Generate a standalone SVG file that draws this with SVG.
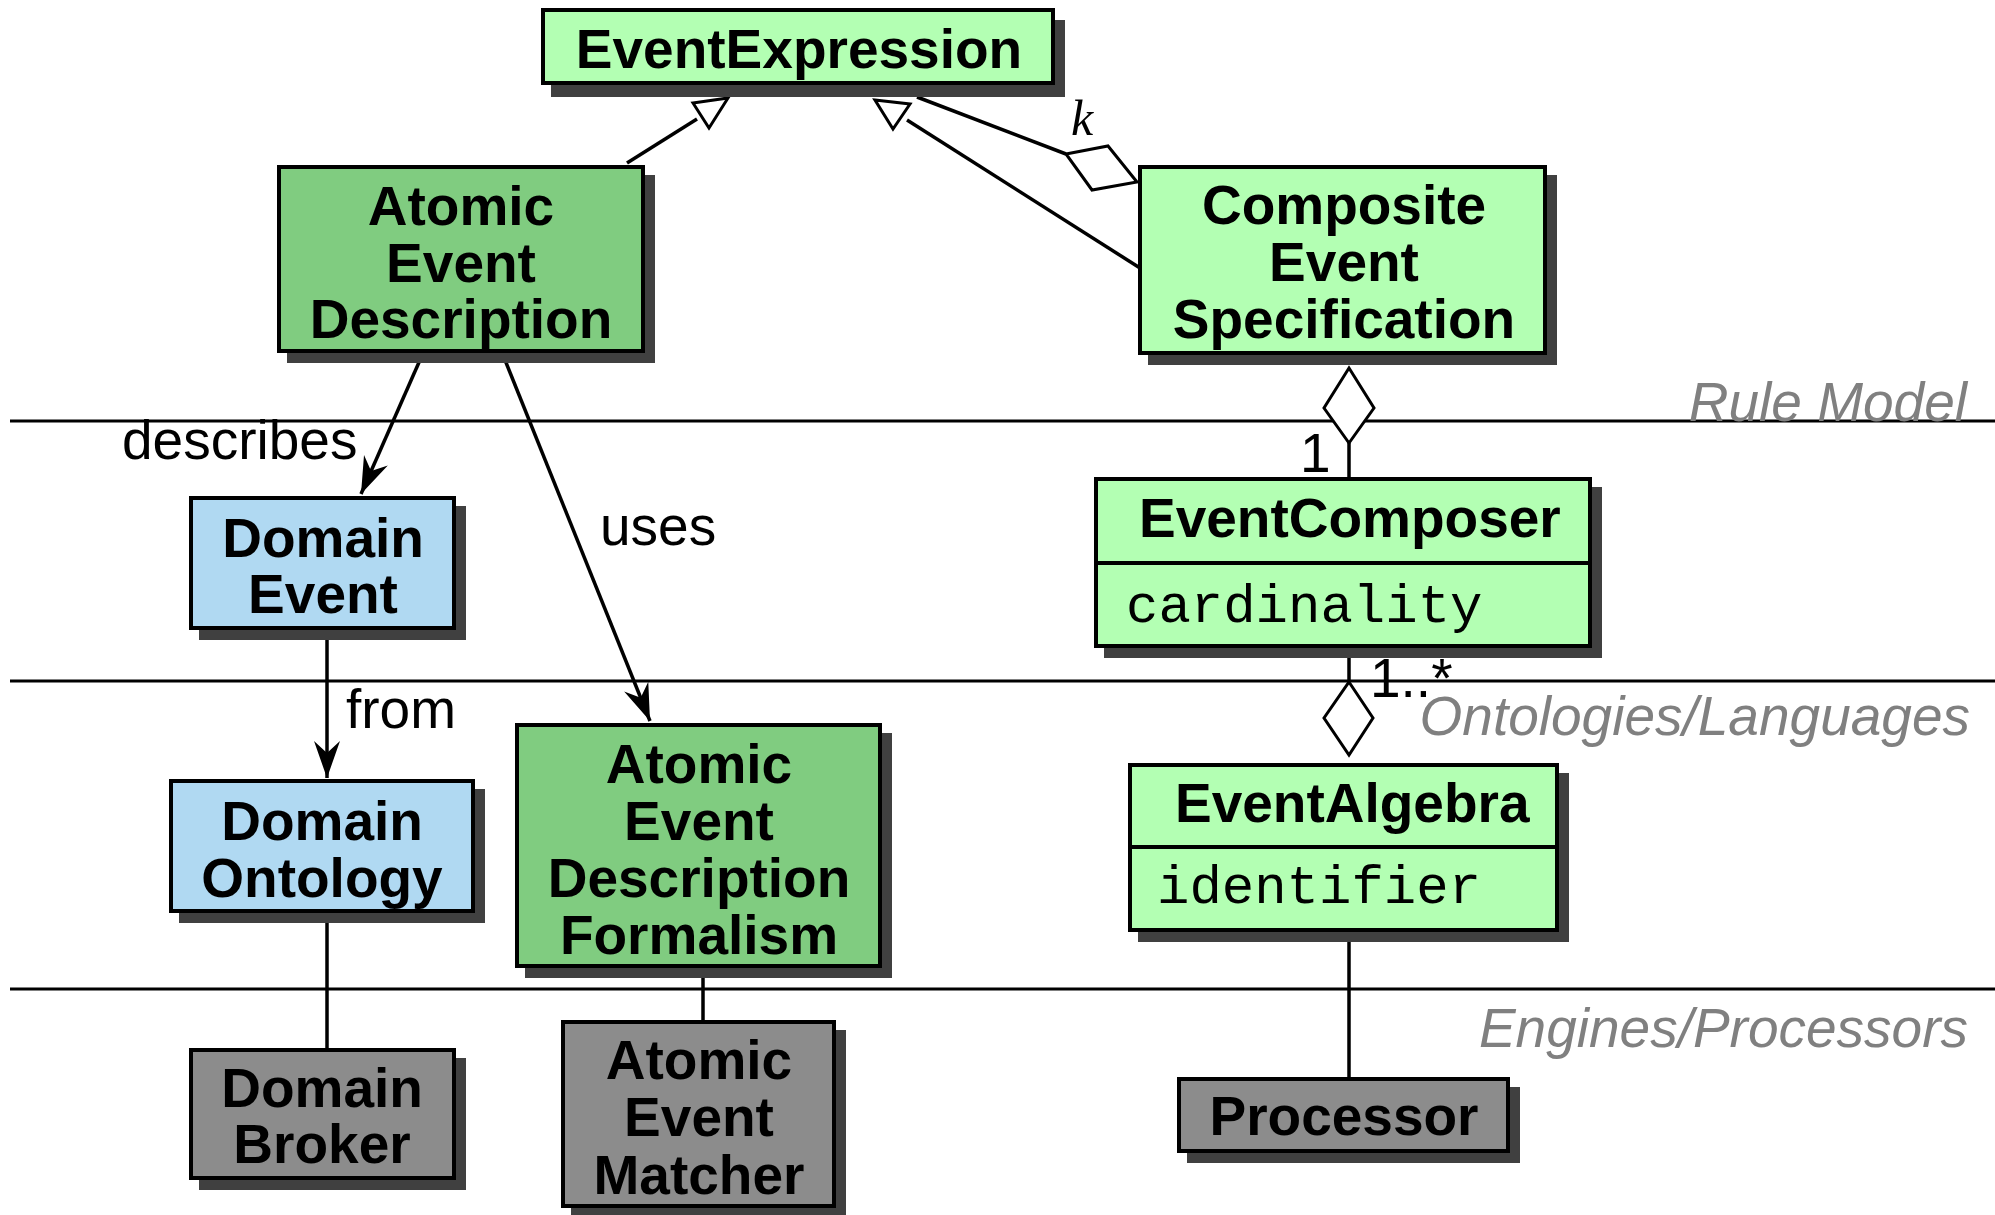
<svg xmlns="http://www.w3.org/2000/svg" width="1995" height="1215" viewBox="0 0 1995 1215">
  <style>
    .box { stroke: #000; stroke-width: 4; }
    .shadow { fill: #404040; }
    .lite { fill: #b3ffb3; }
    .dark { fill: #80cc80; }
    .blue { fill: #b0d9f2; }
    .grey { fill: #8c8c8c; }
    .name { font-family: "Liberation Sans", Arial, sans-serif; font-weight: bold; font-size: 55px; fill: #000; text-anchor: middle; }
    .left { text-anchor: start; }
    .attr { font-family: "Liberation Mono", "Courier New", monospace; font-size: 54px; fill: #000; }
    .lbl { font-family: "Liberation Sans", Arial, sans-serif; font-size: 55px; fill: #000; }
    .lane { font-family: "Liberation Sans", Arial, sans-serif; font-style: italic; font-size: 55px; fill: #808080; text-anchor: end; }
    .sep { stroke: #000; stroke-width: 3; }
    .edge { stroke: #000; stroke-width: 3.5; fill: none; }
    .head { fill: #fff; stroke: #000; stroke-width: 3; stroke-linejoin: miter; }
  </style>
  <defs>
    <marker id="arrow" markerUnits="userSpaceOnUse" viewBox="-40 -15 42 30" refX="0" refY="0" markerWidth="42" markerHeight="30" orient="auto">
      <path d="M0,0 L-37,-13 L-25,0 L-37,13 Z" fill="#000"/>
    </marker>
  </defs>

  <rect width="1995" height="1215" fill="#fff"/>

  <!-- layer separators -->
  <g id="lanes">
    <line class="sep" x1="10" y1="421" x2="1995" y2="421"/>
    <line class="sep" x1="10" y1="681" x2="1995" y2="681"/>
    <line class="sep" x1="10" y1="989" x2="1995" y2="989"/>
    <text class="lane" x="1967" y="421">Rule Model</text>
    <text class="lane" x="1970" y="735">Ontologies/Languages</text>
    <text class="lane" x="1968" y="1047">Engines/Processors</text>
  </g>

  <!-- connectors -->
  <g id="connectors">
    <!-- generalisations to EventExpression -->
    <line class="edge" x1="627" y1="163" x2="697" y2="119"/>
    <polygon class="head" points="693,103 728,98 709,128"/>
    <line class="edge" x1="907" y1="120" x2="1140" y2="268"/>
    <polygon class="head" points="875,100 910,104 893,129"/>
    <!-- k-ary aggregation -->
    <line class="edge" x1="917" y1="97" x2="1066" y2="154"/>
    <polygon class="head" points="1066,154 1108,146 1137,182 1092,190"/>
    <text x="1071" y="135" font-family="'Liberation Serif', 'Times New Roman', serif" font-style="italic" font-size="50">k</text>
    <!-- composite spec to composer -->
    <polygon class="head" points="1349,368 1374,408 1349,443 1324,408"/>
    <line class="edge" x1="1349" y1="443" x2="1349" y2="477"/>
    <text class="lbl" x="1300" y="472" font-size="50">1</text>
    <!-- composer to algebra -->
    <line class="edge" x1="1349" y1="648" x2="1349" y2="682"/>
    <polygon class="head" points="1349,682 1373,718 1349,755 1324,718"/>
    <text class="lbl" x="1370" y="697" font-size="48">1..*</text>
    <!-- algebra to processor -->
    <line class="edge" x1="1349" y1="932" x2="1349" y2="1077"/>
    <!-- describes / uses / from -->
    <line class="edge" x1="420" y1="360" x2="361" y2="494" marker-end="url(#arrow)"/>
    <text class="lbl" x="122" y="459">describes</text>
    <line class="edge" x1="505" y1="360" x2="650" y2="721" marker-end="url(#arrow)"/>
    <text class="lbl" x="600" y="545">uses</text>
    <line class="edge" x1="327" y1="630" x2="327" y2="778" marker-end="url(#arrow)"/>
    <text class="lbl" x="346" y="728">from</text>
    <!-- runtime links -->
    <line class="edge" x1="327" y1="913" x2="327" y2="1048"/>
    <line class="edge" x1="703" y1="968" x2="703" y2="1020"/>
  </g>

  <!-- nodes -->
  <g id="EventExpression">
    <rect class="shadow" x="551" y="20" width="514" height="77"/>
    <rect class="box lite" x="543" y="10" width="510" height="73"/>
    <text class="name" x="799" y="68">EventExpression</text>
  </g>

  <g id="AtomicEventDescription">
    <rect class="shadow" x="287" y="175" width="368" height="188"/>
    <rect class="box dark" x="279" y="167" width="364" height="184"/>
    <text class="name" x="461" y="225">Atomic</text>
    <text class="name" x="461" y="282">Event</text>
    <text class="name" x="461" y="338">Description</text>
  </g>

  <g id="CompositeEventSpecification">
    <rect class="shadow" x="1148" y="175" width="409" height="190"/>
    <rect class="box lite" x="1140" y="167" width="405" height="186"/>
    <text class="name" x="1344" y="224">Composite</text>
    <text class="name" x="1344" y="281">Event</text>
    <text class="name" x="1344" y="338">Specification</text>
  </g>

  <g id="EventComposer">
    <rect class="shadow" x="1104" y="487" width="498" height="171"/>
    <rect class="box lite" x="1096" y="479" width="494" height="167"/>
    <line class="box" x1="1096" y1="563" x2="1590" y2="563"/>
    <text class="name left" x="1139" y="537">EventComposer</text>
    <text class="attr" x="1126" y="622">cardinality</text>
  </g>

  <g id="DomainEvent">
    <rect class="shadow" x="199" y="506" width="267" height="134"/>
    <rect class="box blue" x="191" y="498" width="263" height="130"/>
    <text class="name" x="323" y="557">Domain</text>
    <text class="name" x="323" y="613">Event</text>
  </g>

  <g id="EventAlgebra">
    <rect class="shadow" x="1138" y="773" width="431" height="169"/>
    <rect class="box lite" x="1130" y="765" width="427" height="165"/>
    <line class="box" x1="1130" y1="847" x2="1557" y2="847"/>
    <text class="name left" x="1175" y="822">EventAlgebra</text>
    <text class="attr" x="1157" y="903">identifier</text>
  </g>

  <g id="DomainOntology">
    <rect class="shadow" x="179" y="789" width="306" height="134"/>
    <rect class="box blue" x="171" y="781" width="302" height="130"/>
    <text class="name" x="322" y="840">Domain</text>
    <text class="name" x="322" y="897">Ontology</text>
  </g>

  <g id="AtomicEventDescriptionFormalism">
    <rect class="shadow" x="525" y="733" width="367" height="245"/>
    <rect class="box dark" x="517" y="725" width="363" height="241"/>
    <text class="name" x="699" y="783">Atomic</text>
    <text class="name" x="699" y="840">Event</text>
    <text class="name" x="699" y="897">Description</text>
    <text class="name" x="699" y="954">Formalism</text>
  </g>

  <g id="DomainBroker">
    <rect class="shadow" x="199" y="1058" width="267" height="132"/>
    <rect class="box grey" x="191" y="1050" width="263" height="128"/>
    <text class="name" x="322" y="1107">Domain</text>
    <text class="name" x="322" y="1163">Broker</text>
  </g>

  <g id="AtomicEventMatcher">
    <rect class="shadow" x="571" y="1030" width="275" height="188"/>
    <rect class="box grey" x="563" y="1022" width="271" height="184"/>
    <text class="name" x="699" y="1079">Atomic</text>
    <text class="name" x="699" y="1136">Event</text>
    <text class="name" x="699" y="1194">Matcher</text>
  </g>

  <g id="Processor">
    <rect class="shadow" x="1187" y="1087" width="333" height="76"/>
    <rect class="box grey" x="1179" y="1079" width="329" height="72"/>
    <text class="name" x="1344" y="1135">Processor</text>
  </g>
</svg>
